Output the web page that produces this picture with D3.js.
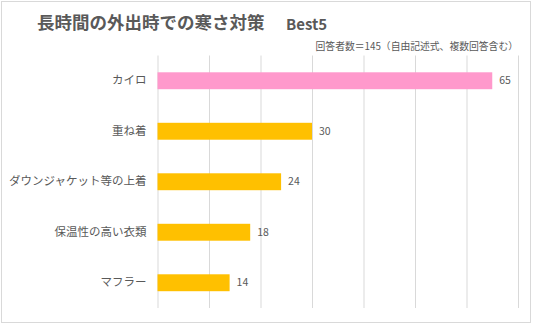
<!DOCTYPE html>
<html>
<head>
<meta charset="utf-8">
<script src="https://cdn.jsdelivr.net/npm/d3@7"></script>
<style>
  body { margin: 0; background: #fff; }
  text { font-family: "Noto Sans CJK JP", "Noto Sans", sans-serif; fill: #595959; }
</style>
</head>
<body>
<script>
var categories = ["カイロ", "重ね着", "ダウンジャケット等の上着", "保温性の高い衣類", "マフラー"];
var counts = [65, 30, 24, 18, 14];
var barColors = ["#FF99CC", "#FFC000", "#FFC000", "#FFC000", "#FFC000"];
var xTicks = [0, 10, 20, 30, 40, 50, 60, 70];

var W = 536, H = 324;
var margin = {top: 55.5, bottom: 16, left: 157.5, right: 18};
var width = W - margin.left - margin.right;
var height = H - margin.top - margin.bottom;

var svg = d3.select("body")
  .append("svg")
  .attr("width", W)
  .attr("height", H);

// chart border
svg.append("rect")
  .attr("x", 1.5).attr("y", 1.5)
  .attr("width", 529).attr("height", 321)
  .attr("fill", "#fff")
  .attr("stroke", "#D9D9D9")
  .attr("stroke-width", 1);

// title
svg.append("text")
  .attr("x", 37)
  .attr("y", 29)
  .style("font-size", "17.5px")
  .style("font-weight", "bold")
  .text("長時間の外出時での寒さ対策");
svg.append("text")
  .attr("x", 286)
  .attr("y", 29.5)
  .style("font-size", "15px")
  .style("font-weight", "bold")
  .text("Best5");

svg.append("text")
  .attr("x", 518)
  .attr("y", 50)
  .attr("text-anchor", "end")
  .style("font-size", "9.8px")
  .text("回答者数＝145（自由記述式、複数回答含む）");

var g = svg.append("g")
  .attr("transform", "translate(" + margin.left + "," + margin.top + ")");

var xScale = d3.scaleLinear()
  .domain([0, 70])
  .range([0, width]);

var yScale = d3.scaleBand()
  .domain(categories)
  .range([0, height])
  .paddingInner(0.665)
  .paddingOuter(0.3325);

// gridlines
var xAxis = d3.axisBottom(xScale)
  .tickValues(xTicks)
  .tickSize(-height)
  .tickFormat("");

var grid = g.append("g")
  .attr("transform", "translate(0," + height + ")")
  .call(xAxis);
grid.select(".domain").remove();
grid.selectAll("line").attr("stroke", "#D9D9D9");

// bars
g.selectAll("rect.bar")
  .data(categories)
  .enter()
  .append("rect")
  .attr("class", "bar")
  .attr("x", xScale(0))
  .attr("y", function(d) { return yScale(d); })
  .attr("width", function(d, i) { return xScale(counts[i]) - xScale(0); })
  .attr("height", yScale.bandwidth())
  .attr("fill", function(d, i) { return barColors[i]; });

// value labels
g.selectAll("text.val")
  .data(categories)
  .enter()
  .append("text")
  .attr("class", "val")
  .attr("x", function(d, i) { return xScale(counts[i]) + 7; })
  .attr("y", function(d) { return yScale(d) + yScale.bandwidth() / 2; })
  .attr("dy", "0.35em")
  .style("font-size", "10.5px")
  .text(function(d, i) { return counts[i]; });

// category axis
var yAxis = d3.axisLeft(yScale).tickSize(0).tickPadding(11);
var ya = g.append("g").call(yAxis);
ya.select(".domain").remove();
ya.selectAll("text")
  .style("font-size", "11.5px")
  .style("font-family", "'Noto Sans CJK JP', sans-serif")
  .attr("fill", "#595959");
</script>
</body>
</html>
